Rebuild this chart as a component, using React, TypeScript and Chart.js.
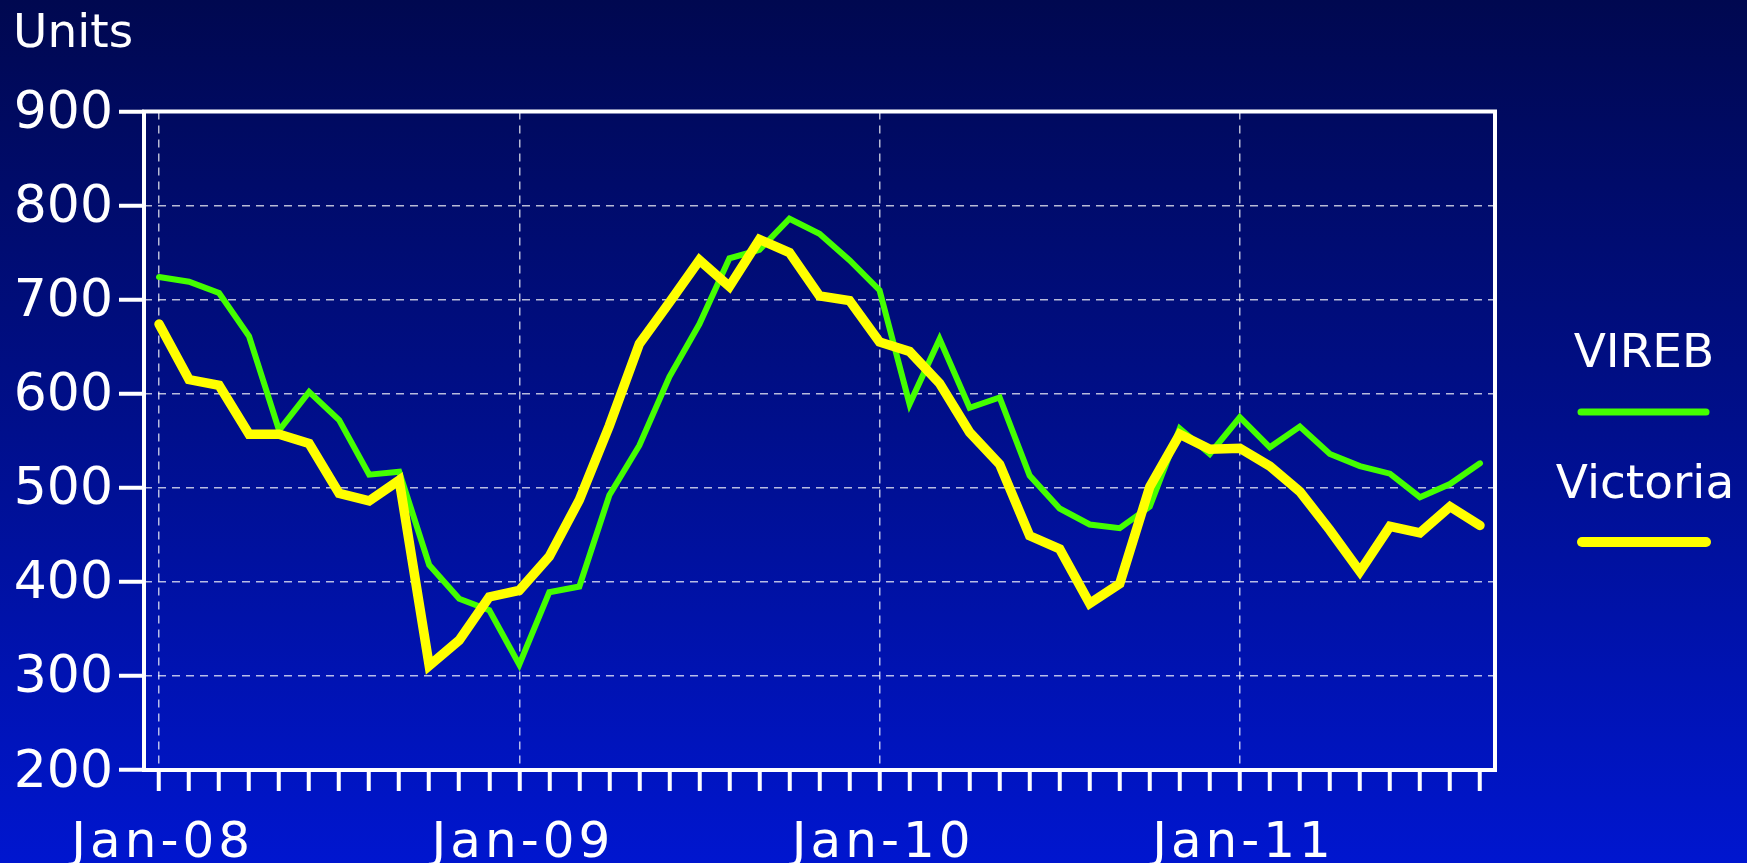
import React, { useEffect, useRef } from "react";
import { Chart, registerables } from "chart.js";

Chart.register(...registerables);

// ---- data ----
const MONTHS = ["Jan", "Feb", "Mar", "Apr", "May", "Jun", "Jul", "Aug", "Sep", "Oct", "Nov", "Dec"];
const YEARS = ["08", "09", "10", "11"];
const MONTH_COUNT = 45; // Jan-08 .. Sep-11
const CATEGORIES: string[] = [];
for (let i = 0; i < MONTH_COUNT; i++) {
  CATEGORIES.push(MONTHS[i % 12] + "-" + YEARS[Math.floor(i / 12)]);
}

const VIREB = [
  724, 719, 707, 661, 561, 602, 572, 514, 517, 418, 382, 370,
  312, 389, 395, 492, 545, 618, 674, 744, 753, 786, 770, 742,
  710, 589, 658, 585, 596, 513, 478, 461, 457, 480, 563, 536,
  575, 543, 565, 536, 523, 515, 490, 504, 526,
];

const VICTORIA = [
  674, 615, 609, 557, 557, 547, 494, 486, 508, 311, 338, 384,
  391, 427, 487, 566, 653, 697, 742, 714, 764, 750, 704, 699,
  655, 645, 611, 559, 525, 449, 435, 377, 398, 501, 557, 541,
  542, 523, 496, 455, 411, 459, 452, 480, 460,
];

const SERIES_NAMES = ["VIREB", "Victoria"];
const Y_MIN = 200;
const Y_MAX = 900;
const Y_STEP = 100;
const Y_TITLE = "Units";

// ---- styles ----
const FONT = "'DejaVu Sans', Verdana, sans-serif";
const GREEN = "#44ff00";
const YELLOW = "#ffff00";
const GRID = "rgba(255,255,255,0.72)";

const overlayPlugin = {
  id: "overlay",
  afterDatasetsDraw(chart: any) {
    const { ctx, chartArea: a } = chart;
    ctx.save();
    ctx.strokeStyle = "#ffffff";
    ctx.lineWidth = 4;
    ctx.strokeRect(a.left, a.top, a.right - a.left, a.bottom - a.top);
    ctx.restore();
  },
  afterDraw(chart: any) {
    const { ctx } = chart;
    const xs = chart.scales.x;
    ctx.save();
    ctx.fillStyle = "#ffffff";
    ctx.textBaseline = "alphabetic";

    // x-axis month labels (January of each year)
    ctx.font = "50px " + FONT;
    ctx.textAlign = "center";
    (ctx as any).letterSpacing = "4px";
    for (let i = 0; i < CATEGORIES.length; i += 12) {
      ctx.fillText(CATEGORIES[i], xs.getPixelForValue(i) + 3.7, 857);
    }
    (ctx as any).letterSpacing = "0px";

    // y-axis title
    ctx.font = "47px " + FONT;
    ctx.textAlign = "left";
    ctx.fillText(Y_TITLE, 13, 47);

    // legend
    ctx.textAlign = "center";
    ctx.fillText(SERIES_NAMES[0], 1644, 367);
    ctx.fillText(SERIES_NAMES[1], 1645, 498);
    ctx.lineCap = "round";
    ctx.strokeStyle = GREEN;
    ctx.lineWidth = 7;
    ctx.beginPath();
    ctx.moveTo(1581, 412);
    ctx.lineTo(1706, 412);
    ctx.stroke();
    ctx.strokeStyle = YELLOW;
    ctx.lineWidth = 10;
    ctx.beginPath();
    ctx.moveTo(1582, 542);
    ctx.lineTo(1706, 542);
    ctx.stroke();
    ctx.restore();
  },
};

export default function App() {
  const ref = useRef<HTMLCanvasElement | null>(null);

  useEffect(() => {
    if (!ref.current) return;
    const chart = new Chart(ref.current, {
      type: "line",
      data: {
        labels: CATEGORIES,
        datasets: [
          {
            label: SERIES_NAMES[0],
            data: VIREB,
            borderColor: GREEN,
            backgroundColor: GREEN,
            borderWidth: 6,
            pointRadius: 0,
            tension: 0,
            borderCapStyle: "round",
            borderJoinStyle: "miter",
            order: 1,
          },
          {
            label: SERIES_NAMES[1],
            data: VICTORIA,
            borderColor: YELLOW,
            backgroundColor: YELLOW,
            borderWidth: 9.5,
            pointRadius: 0,
            tension: 0,
            borderCapStyle: "round",
            borderJoinStyle: "miter",
            order: 0,
          },
        ],
      },
      options: {
        responsive: false,
        animation: false,
        devicePixelRatio: 1,
        layout: { padding: { left: 0, top: 111.5, right: 252, bottom: 0 } },
        plugins: {
          legend: { display: false },
          tooltip: { enabled: false },
          title: { display: false },
        },
        scales: {
          x: {
            type: "category",
            offset: true,
            afterFit: (s: any) => {
              s.height = 93;
            },
            grid: {
              offset: false,
              color: (c: any) => (c.index % 12 === 0 ? GRID : "rgba(0,0,0,0)"),
              lineWidth: 1.5,
              drawTicks: true,
              tickLength: 21,
              tickColor: "#ffffff",
              tickWidth: 4,
            },
            border: { display: false, dash: [8, 6] },
            ticks: {
              autoSkip: false,
              maxRotation: 0,
              minRotation: 0,
              padding: 19,
              color: "#ffffff",
              font: { family: FONT, size: 50 },
              callback: () => "",
            },
          },
          y: {
            min: Y_MIN,
            max: Y_MAX,
            afterFit: (s: any) => {
              s.width = 144;
            },
            grid: {
              color: GRID,
              lineWidth: 1.5,
              drawTicks: true,
              tickLength: 25,
              tickColor: "#ffffff",
              tickWidth: 4,
            },
            border: { display: false, dash: [8, 6] },
            ticks: {
              stepSize: Y_STEP,
              padding: 6,
              labelOffset: 3,
              color: "#ffffff",
              font: { family: FONT, size: 52 },
            },
          },
        },
      },
      plugins: [overlayPlugin],
    } as any);
    return () => chart.destroy();
  }, []);

  return (
    <div
      style={{
        position: "fixed",
        left: 0,
        top: 0,
        width: 1747,
        height: 863,
        background: "linear-gradient(to bottom, #000850 0%, #000f8c 50%, #0016cf 100%)",
      }}
    >
      <canvas ref={ref} width={1747} height={863} style={{ display: "block" }} />
    </div>
  );
}
